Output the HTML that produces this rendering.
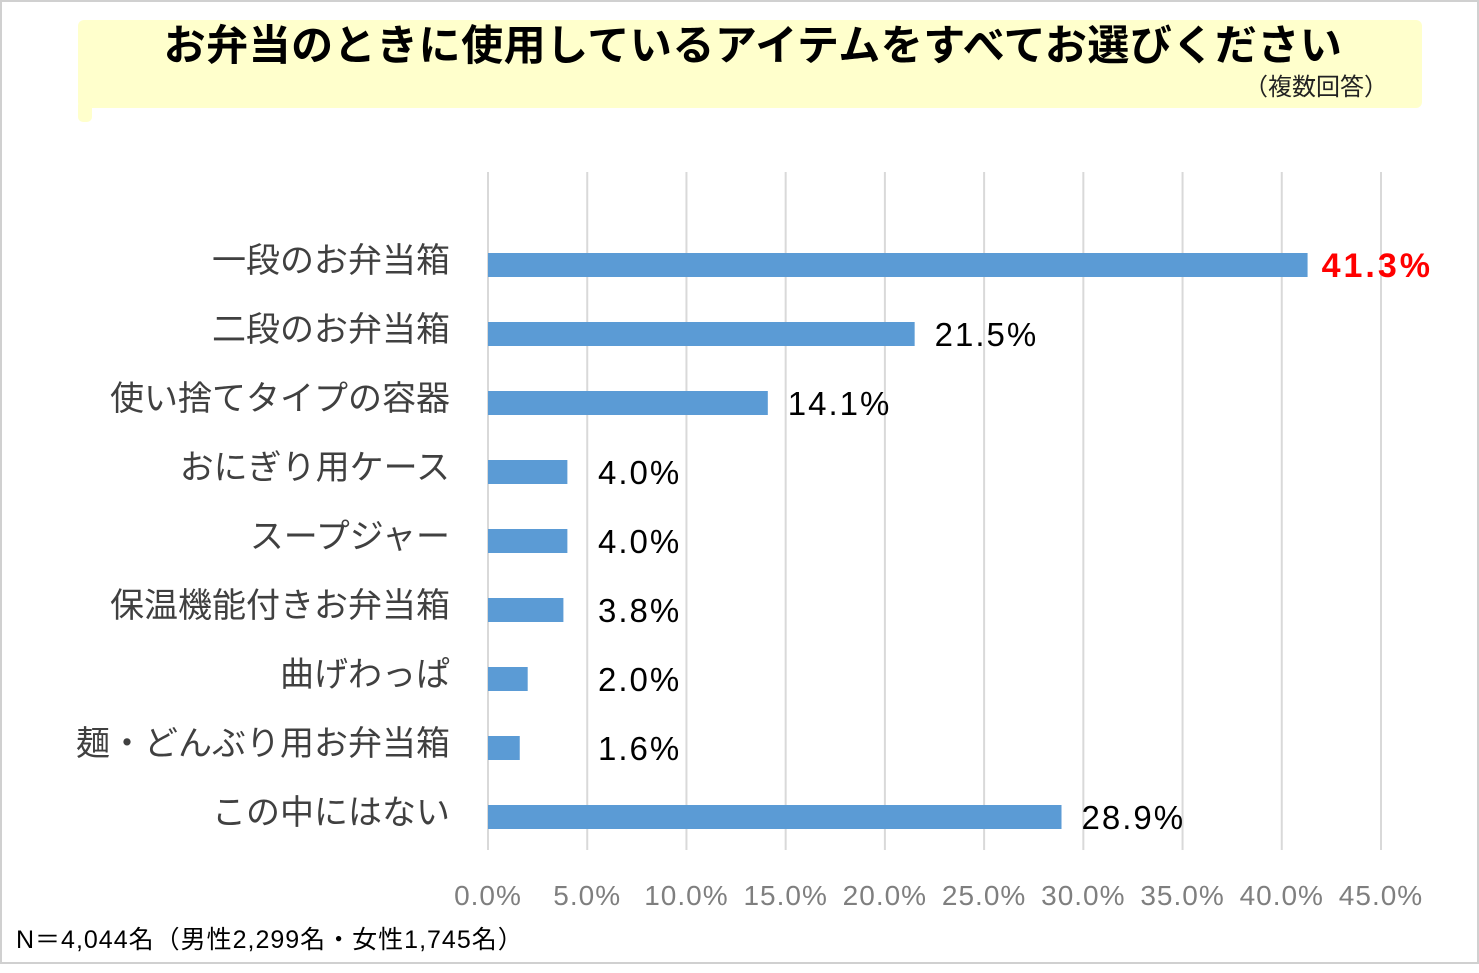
<!DOCTYPE html>
<html><head><meta charset="utf-8">
<style>
body{margin:0;width:1479px;height:973px;background:#fff;overflow:hidden;font-family:"Liberation Sans","Noto Sans CJK JP",sans-serif;}
#frame{position:absolute;left:0;top:0;width:1475px;height:960px;border:2px solid #d0d0d0;box-sizing:content-box;}
</style></head><body>
<div id="frame"></div>
<svg id="c" width="1479" height="973" style="position:absolute;left:0;top:0"></svg>
<script>
const categories=["一段のお弁当箱","二段のお弁当箱","使い捨てタイプの容器","おにぎり用ケース","スープジャー","保温機能付きお弁当箱","曲げわっぱ","麺・どんぶり用お弁当箱","この中にはない"];
const values=[41.3,21.5,14.1,4.0,4.0,3.8,2.0,1.6,28.9];
const valueLabels=["41.3%","21.5%","14.1%","4.0%","4.0%","3.8%","2.0%","1.6%","28.9%"];
const ticks=[0,5,10,15,20,25,30,35,40,45];
const tickLabels=["0.0%","5.0%","10.0%","15.0%","20.0%","25.0%","30.0%","35.0%","40.0%","45.0%"];
const NS="http://www.w3.org/2000/svg";
const svg=document.getElementById('c');
const x=v=>488+v*(1381-488)/45;
const y=i=>265+i*69;
function mk(t,a,txt){const e=document.createElementNS(NS,t);for(const k in a)e.setAttribute(k,a[k]);if(txt!==undefined)e.textContent=txt;svg.appendChild(e);return e;}
let tb=mk('rect',{x:78,y:20,width:1344,height:88,rx:6,fill:'#ffffcc'});


let bt=mk('rect',{x:78,y:100,width:14,height:22,rx:5,fill:'#ffffcc'});


let ti=mk('text',{x:753,y:60,'text-anchor':'middle','font-size':42,'letter-spacing':0.5,'font-weight':'bold',fill:'#000'},'お弁当のときに使用しているアイテムをすべてお選びください');


let st=mk('text',{x:1388,y:95,'text-anchor':'end','font-size':24,fill:'#222'},'（複数回答）');


ticks.forEach((t,i)=>{
 let g=mk('line',{x1:x(t),x2:x(t),y1:172,y2:850,stroke:'#d9d9d9','stroke-width':2});
 
 
 let l=mk('text',{x:x(t),y:905,'text-anchor':'middle','font-size':28,'letter-spacing':1,fill:'#7f7f7f'},tickLabels[i]);
 
 
});
categories.forEach((c,i)=>{
 let b=mk('rect',{x:x(0),y:y(i)-12,width:x(values[i])-x(0),height:24,fill:'#5b9bd5'});
 
 
 let cl=mk('text',{x:450,y:y(i)+7,'text-anchor':'end','font-size':34,fill:'#404040'},c);
 
 
 const first=i===0;
 const lx=Math.max(x(values[i])+20,598);
 let vl=mk('text',{x:first?x(values[i])+14:lx,y:y(i)+12,'font-size':first?34:33,'letter-spacing':first?3:2,'font-weight':first?'bold':'normal',fill:first?'#ff0000':'#000'},valueLabels[i]);
 
 
});
let n=mk('text',{x:16,y:948,'font-size':25,'letter-spacing':1,fill:'#000'},'N＝4,044名（男性2,299名・女性1,745名）');


</script>
</body></html>
